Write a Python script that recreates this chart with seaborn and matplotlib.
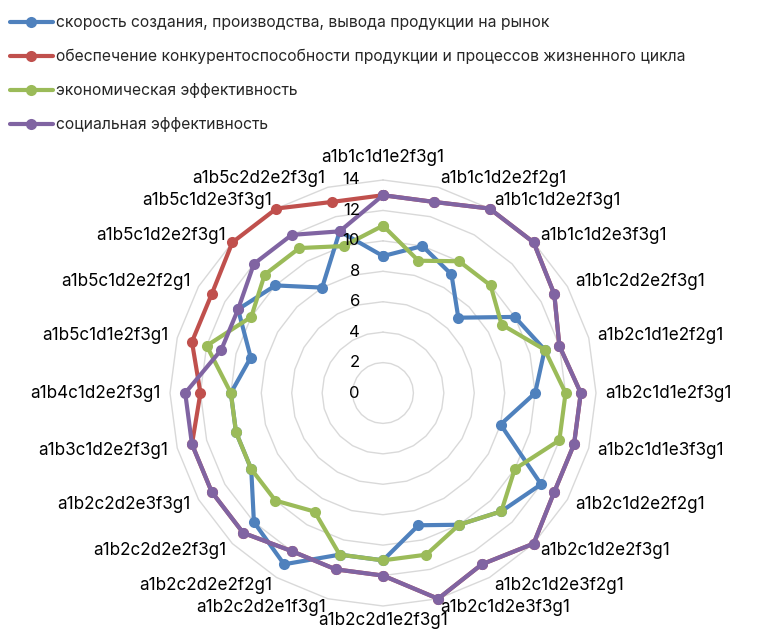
import numpy as np
import pandas as pd
import seaborn as sns
import matplotlib
matplotlib.use("Agg")
import matplotlib.pyplot as plt
from matplotlib.lines import Line2D
from matplotlib.transforms import ScaledTranslation

categories = [
    "a1b1c1d1e2f3g1", "a1b1c1d2e2f2g1", "a1b1c1d2e2f3g1", "a1b1c1d2e3f3g1",
    "a1b1c2d2e2f3g1", "a1b2c1d1e2f2g1", "a1b2c1d1e2f3g1", "a1b2c1d1e3f3g1",
    "a1b2c1d2e2f2g1", "a1b2c1d2e2f3g1", "a1b2c1d2e3f2g1", "a1b2c1d2e3f3g1",
    "a1b2c2d1e2f3g1", "a1b2c2d2e1f3g1", "a1b2c2d2e2f2g1", "a1b2c2d2e2f3g1",
    "a1b2c2d2e3f3g1", "a1b3c1d2e2f3g1", "a1b4c1d2e2f3g1", "a1b5c1d1e2f3g1",
    "a1b5c1d2e2f2g1", "a1b5c1d2e2f3g1", "a1b5c1d2e3f3g1", "a1b5c2d2e2f3g1",
]

speed = [9, 10, 9, 7, 10, 11, 10, 8, 12, 11, 10, 9,
         11, 11, 13, 12, 10, 10, 10, 9, 11, 10, 8, 11]
competitiveness = [13, 13, 14, 14, 13, 12, 13, 13, 13, 14, 13, 14,
                   12, 12, 12, 13, 13, 13, 12, 13, 13, 14, 14, 13]
economic = [11, 9, 10, 10, 9, 11, 12, 12, 10, 11, 10, 11,
            11, 11, 9, 10, 10, 10, 10, 12, 10, 11, 11, 10]
social = [13, 13, 14, 14, 13, 12, 13, 13, 13, 14, 13, 14,
          12, 12, 12, 13, 13, 13, 13, 11, 11, 12, 12, 11]

series_names = [
    "скорость создания, производства, вывода продукции на рынок",
    "обеспечение конкурентоспособности продукции и процессов жизненного цикла",
    "экономическая эффективность",
    "социальная эффективность",
]
series_values = [speed, competitiveness, economic, social]
colors = ["#4F81BD", "#C0504D", "#9BBB59", "#8064A2"]
r_ticks = [0, 2, 4, 6, 8, 10, 12, 14]

sns.set_theme(style="white")
plt.rcParams["font.family"] = ["Inter", "DejaVu Sans"]

W, H = 758, 631
fig = plt.figure(figsize=(W / 100, H / 100), dpi=100)
cx, cy, R = 383, 393, 213
ax = fig.add_axes([(cx - R) / W, (H - cy - R) / H, 2 * R / W, 2 * R / H],
                  projection="polar")
ax.set_theta_zero_location("N")
ax.set_theta_direction(-1)
ax.set_ylim(0, 14)
ax.grid(False)
ax.set_xticks([])
ax.set_yticks([])
ax.spines["polar"].set_visible(False)
ax.patch.set_alpha(0)

n = len(categories)
theta = np.arange(n) * 2 * np.pi / n
theta_closed = np.append(theta, 2 * np.pi)

# polygonal grid rings
for lvl in r_ticks[1:]:
    ax.plot(theta_closed, np.full(n + 1, lvl), color="#D9D9D9", lw=1.0,
            zorder=0, clip_on=False)

# data series
for name, vals, col in zip(series_names, series_values, colors):
    df = pd.DataFrame({"theta": theta_closed,
                       "value": np.append(vals, vals[0])})
    sns.lineplot(data=df, x="theta", y="value", ax=ax, sort=False,
                 estimator=None, color=col, lw=3.0, marker="o",
                 markersize=8, markeredgewidth=0, clip_on=False, zorder=3)
ax.set_xlabel("")
ax.set_ylabel("")
ax.set_ylim(0, 14)

# radial value labels
off = ScaledTranslation(-23 / 100, 0, fig.dpi_scale_trans)
for v in r_ticks:
    ax.text(0, v, str(v), transform=ax.transData + off, ha="right",
            va="center", fontsize=12, color="#000000", zorder=5)

# category labels
for i, (t, lab) in enumerate(zip(theta, categories)):
    s, c = np.sin(t), np.cos(t)
    if abs(s) < 0.05:
        ha = "center"
        r_lab = 15.45 if c > 0 else 14.95
    else:
        ha = "left" if s > 0 else "right"
        r_lab = 14.6
    ax.text(t, r_lab, lab, ha=ha, va="center", fontsize=12.3,
            color="#000000", clip_on=False)

handles = [Line2D([0], [0], color=c, lw=3.0, marker="o", markersize=8,
                  markeredgewidth=0) for c in colors]
fig.legend(handles, series_names, loc="upper left",
           bbox_to_anchor=(4 / W, 1 - 9 / H), frameon=False, fontsize=11.3,
           handlelength=2.7, handletextpad=0.2, labelspacing=1.2,
           borderaxespad=0)

fig.savefig("out.png", dpi=100)
